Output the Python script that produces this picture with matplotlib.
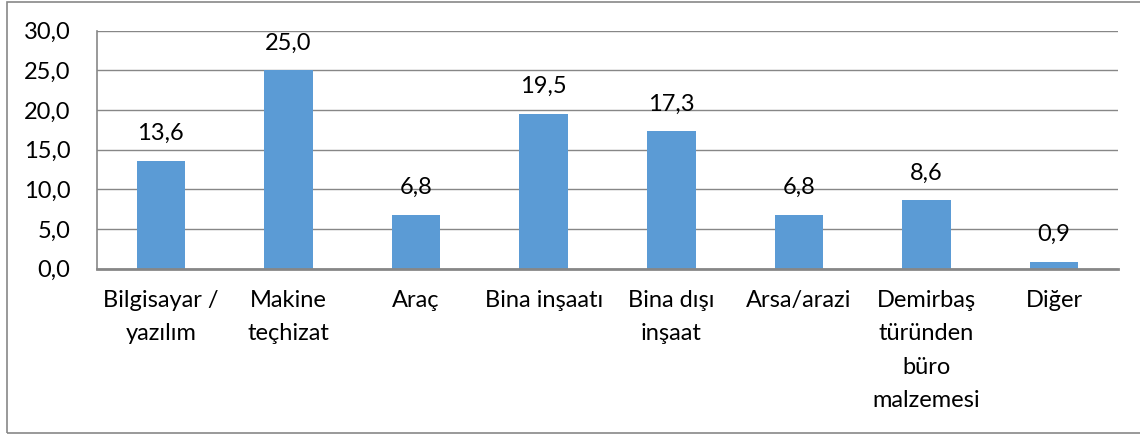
import matplotlib
matplotlib.use("Agg")
import matplotlib.pyplot as plt
from matplotlib.patches import Rectangle

# veri
kategoriler = ["Bilgisayar /\nyazılım", "Makine\nteçhizat", "Araç", "Bina inşaatı",
               "Bina dışı\ninşaat", "Arsa/arazi", "Demirbaş\ntüründen\nbüro\nmalzemesi", "Diğer"]
degerler = [13.6, 25.0, 6.8, 19.5, 17.3, 6.8, 8.6, 0.9]
y_ticks = [0, 5, 10, 15, 20, 25, 30]

plt.rcParams['font.family'] = ['Lato', 'DejaVu Sans']
fs = 17

fig = plt.figure(figsize=(11.4, 4.34), dpi=100)
ax = fig.add_axes([97 / 1140, 1 - 268.7 / 434, (1118 - 97) / 1140, (268.7 - 30.7) / 434])

x = range(len(degerler))
bars = ax.bar(x, degerler, width=0.38, color="#5B9BD5", zorder=2)

for xi, v in zip(x, degerler):
    ax.annotate(f"{v:.1f}".replace(".", ","), (xi, v), xytext=(0, 12),
                textcoords="offset points", ha="center", va="bottom", fontsize=fs)

ax.set_ylim(0, 30)
ax.set_xlim(-0.5, len(degerler) - 0.5)
ax.set_yticks(y_ticks)
ax.set_yticklabels([f"{t:.1f}".replace(".", ",") for t in y_ticks], fontsize=fs)
ax.set_xticks(list(x))
ax.set_xticklabels(kategoriler, fontsize=fs, linespacing=1.74, va="top")
ax.tick_params(axis="x", length=0, pad=15)
ax.tick_params(axis="y", length=0, pad=19)

ax.yaxis.grid(True, color="#878787", linewidth=1.0, zorder=0)
ax.set_axisbelow(True)
for s in ["top", "right"]:
    ax.spines[s].set_visible(False)
ax.spines["left"].set_color("#878787")
ax.spines["left"].set_linewidth(1.2)
ax.spines["bottom"].set_color("#878787")
ax.spines["bottom"].set_linewidth(2.0)

# dış çerçeve
fig.patches.append(Rectangle((7 / 1140, 1 / 434), 1.2, 1 - 2.5 / 434, transform=fig.transFigure,
                             fill=False, edgecolor="#888888", linewidth=1.2))

fig.savefig("out.png", dpi=100)
